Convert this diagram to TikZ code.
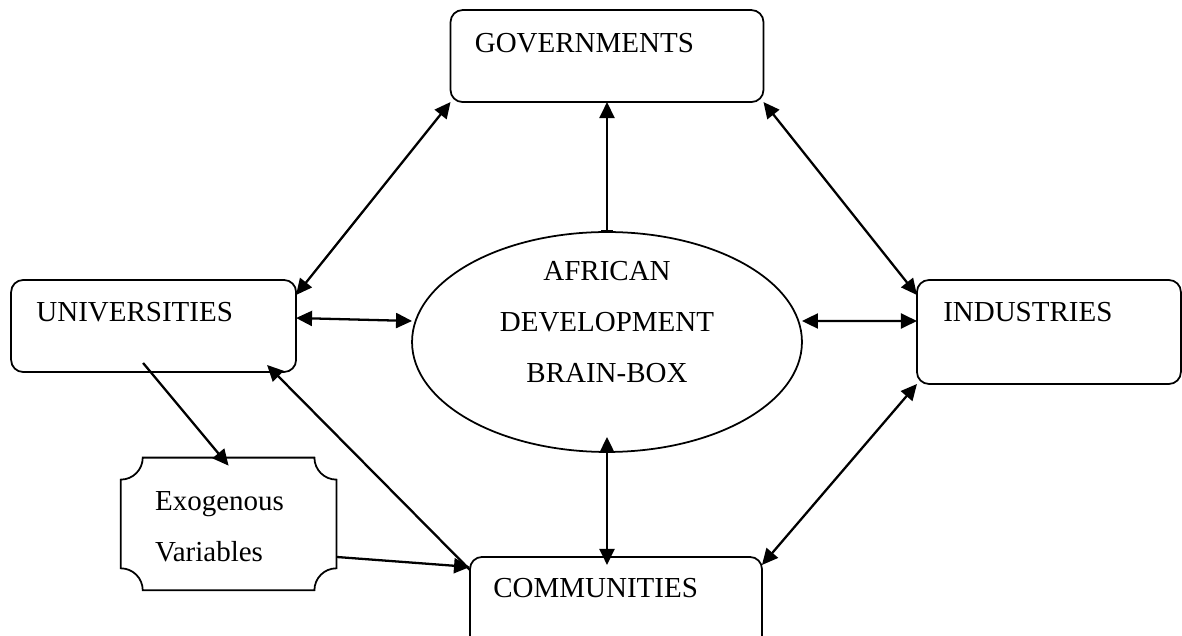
\documentclass[tikz,border=0pt]{standalone}
\usepackage{fontspec}
\setmainfont{Liberation Serif}
\usetikzlibrary{arrows.meta, positioning, shapes.geometric}

\begin{document}
\begin{tikzpicture}[
      x=0.02cm, y=0.02cm, on grid,
      >={Triangle[length=0.32cm,width=0.3cm]},
      every node/.style={font=\fontsize{16.5}{29}\selectfont},
      box/.style={draw, line width=1pt, rounded corners=0.24cm,
        minimum height=1.84cm, inner sep=0pt, outer sep=0pt},
      hub/.style={draw, ellipse, line width=1pt, minimum width=7.8cm,
        minimum height=4.4cm, inner sep=0pt, outer sep=0pt},
      tag/.style={anchor=base west, inner sep=0pt},
      link/.style={line width=1.3pt},
      ]

      \useasboundingbox (0,0) rectangle (1182,635);

      % the brain box in the middle
      \node[hub] (brain) at (607,293) {};
      \node[align=center, inner sep=0pt] (braintext) at (607,313)
        {AFRICAN\\DEVELOPMENT\\BRAIN-BOX};

      % the four partners
      \node[box, minimum width=6.26cm, above=5.72cm of brain]                    (gov)  {};
      \node[box, minimum width=5.7cm,  above left=0.32cm and 9.07cm of brain]    (univ) {};
      \node[box, minimum width=5.28cm, minimum height=2.08cm,
            above right=0.2cm and 8.84cm of brain]                               (ind)  {};
      \node[box, minimum width=5.84cm, below right=5.22cm and 0.18cm of brain]   (comm) {};
      \node[minimum width=4.3cm, minimum height=2.64cm, inner sep=0pt,
            below right=3.96cm and 1.5cm of univ]                                (exo)  {};

      % plaque outline of the exogenous box
      \draw[line width=1pt]
        ([xshift=0.44cm]exo.north west) -- ([xshift=-0.44cm]exo.north east)
        arc[start angle=180, end angle=270, radius=0.44cm]
        -- ([yshift=0.44cm]exo.south east)
        arc[start angle=90, end angle=180, radius=0.44cm]
        -- ([xshift=0.44cm]exo.south west)
        arc[start angle=0, end angle=90, radius=0.44cm]
        -- ([yshift=-0.44cm]exo.north west)
        arc[start angle=270, end angle=360, radius=0.44cm] -- cycle;

      \node[tag] (govtext)  at ([shift={(0.48cm,-0.84cm)}]gov.north west)  {GOVERNMENTS};
      \node[tag] (univtext) at ([shift={(0.5cm,-0.84cm)}]univ.north west)  {UNIVERSITIES};
      \node[tag] (indtext)  at ([shift={(0.52cm,-0.84cm)}]ind.north west)  {INDUSTRIES};
      \node[tag] (commtext) at ([shift={(0.46cm,-0.82cm)}]comm.north west) {COMMUNITIES};
      \node[tag, align=left] (exotext) at ([shift={(0.68cm,-2.08cm)}]exo.north west)
        {Exogenous\\Variables};

      % links
      \draw[link, <->] ([yshift=-0.3cm]univ.north east) -- (gov.south west);
      \draw[link, <->] (gov.south east) -- ([yshift=-0.3cm]ind.north west);
      \draw[link, <->] ([yshift=0.16cm]univ.east) -- ([yshift=0.42cm]brain.west);
      \draw[link, <->] ([yshift=0.42cm]brain.east) -- ([yshift=0.22cm]ind.west);
      \draw[link, {Bar[width=0.24cm]}->] (brain.north) -- (brain.north |- gov.south);
      \draw[link, <->] ([yshift=0.3cm]brain.south) -- ([yshift=-0.16cm]brain.south |- comm.north);
      \draw[link, <->] (ind.south west) -- ([yshift=-0.16cm]comm.north east);
      \draw[link, ->] ([yshift=-0.26cm]comm.north west) -- ([shift={(-0.58cm,0.14cm)}]univ.south east);
      \draw[link, ->] ([shift={(-0.21cm,0.18cm)}]univ.south) -- ([yshift=-0.16cm]exo.north);
      \draw[link, ->] ([yshift=-0.66cm]exo.east) -- ([yshift=-0.2cm]comm.north west);
    \end{tikzpicture}
\end{document}
